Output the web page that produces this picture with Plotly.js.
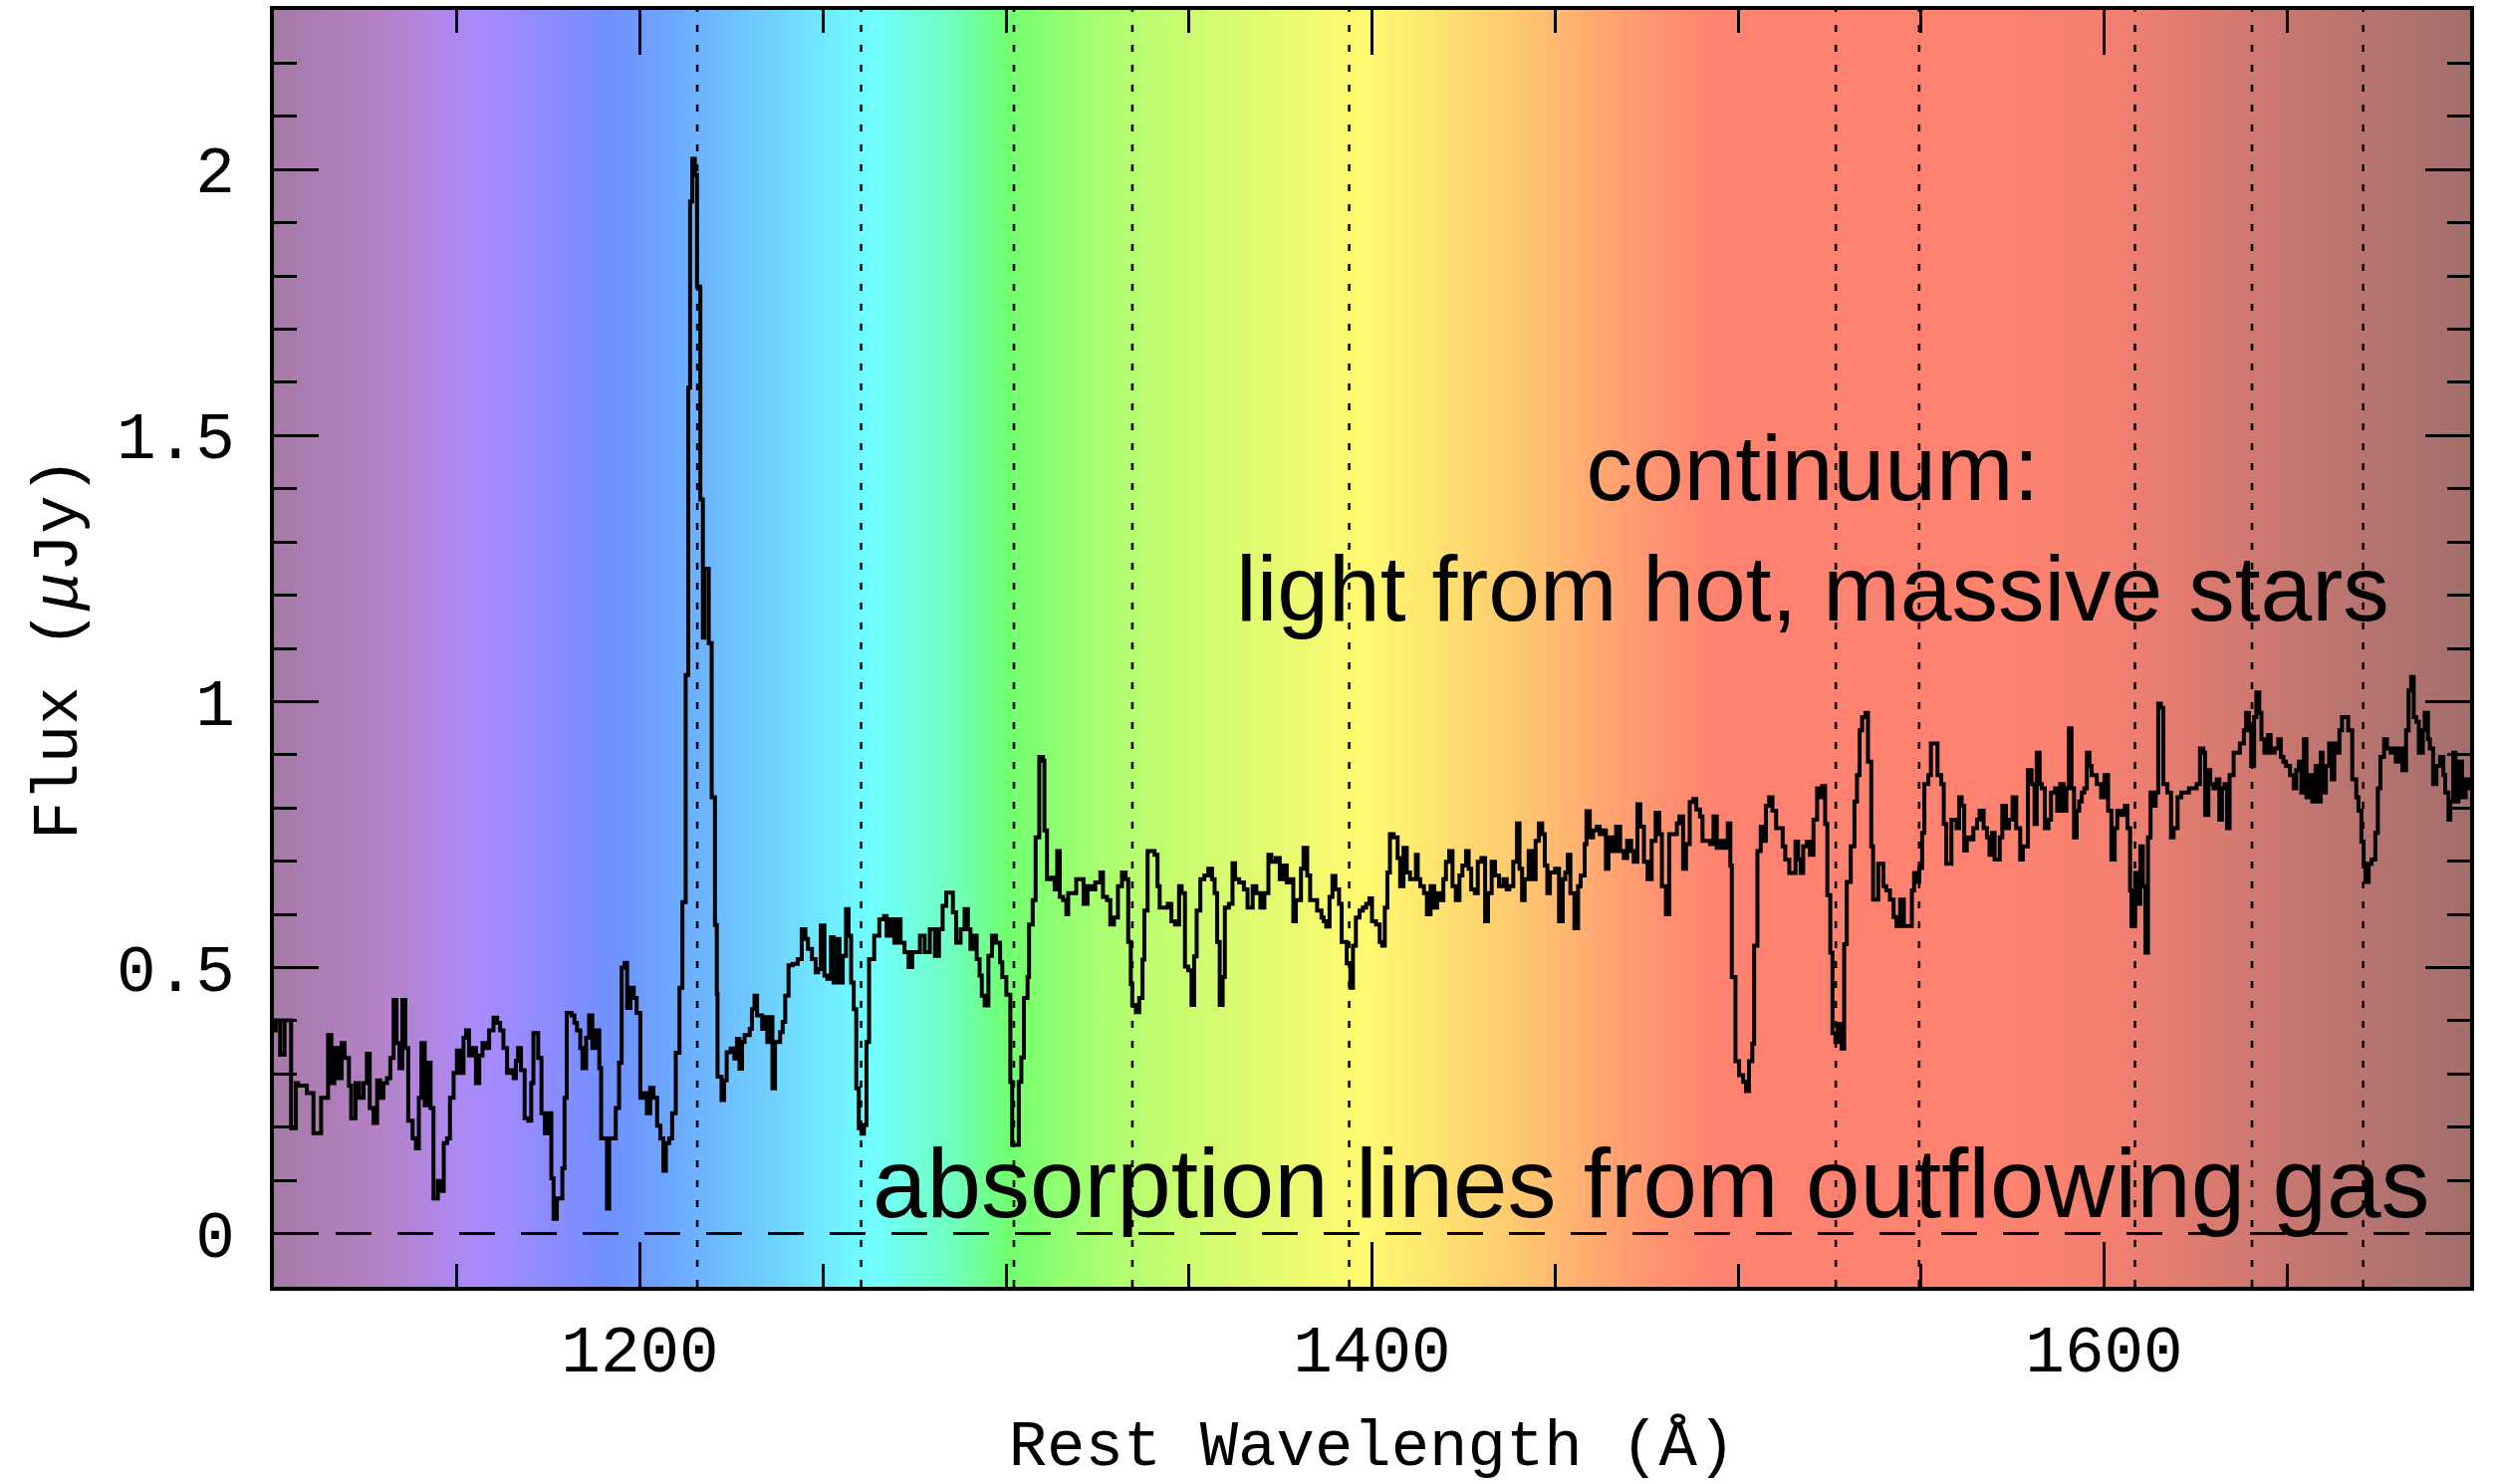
<!DOCTYPE html>
<html>
<head>
<meta charset="utf-8">
<script src="https://cdn.plot.ly/plotly-3.0.1.min.js"></script>
<style>
  html, body { margin: 0; padding: 0; background: #ffffff; }
  #chart { width: 2504px; height: 1490px; }
</style>
</head>
<body>
<div id="chart"></div>
<script>
// ---- Spectrum (rest wavelength in Angstrom, flux in microJy) ----
const wavelength = [
1100.0,1100.5,1101.7,1102.9,1104.7,1106.0,1106.6,1109.0,1110.8,1112.0,1112.9,1114.8,1115.7,1116.5,1117.5,1118.5,1119.3,1120.5,1121.1,1122.3,
1123.3,1124.5,1125.4,1126.2,1127.2,1128.2,1129.0,1129.9,1130.9,1131.8,1132.7,1133.5,1134.3,1135.1,1135.9,1136.7,1137.9,1138.8,1139.6,1140.3,
1141.2,1142.0,1142.8,1143.6,1144.8,1145.7,1146.4,1147.3,1148.1,1149.1,1150.0,1150.9,1151.8,1152.5,1153.3,1154.2,1155.2,1156.1,1157.0,1157.8,
1158.8,1160.0,1161.0,1161.8,1162.7,1163.7,1164.6,1165.5,1166.1,1166.7,1167.5,1168.5,1169.5,1170.3,1170.9,1172.2,1173.1,1174.0,1174.8,1175.8,
1176.4,1177.3,1178.0,1178.8,1179.4,1180.0,1181.3,1182.1,1182.8,1183.7,1184.3,1185.3,1186.1,1187.0,1187.9,1188.9,1189.4,1190.4,1191.0,1191.6,
1192.6,1193.4,1194.3,1195.0,1195.8,1196.5,1197.4,1198.3,1199.1,1200.1,1201.1,1201.9,1202.8,1203.7,1204.7,1205.6,1206.4,1207.1,1208.0,1208.8,
1209.8,1210.8,1211.6,1212.5,1213.2,1213.7,1214.3,1215.0,1215.6,1216.5,1217.2,1217.6,1218.8,1219.6,1220.5,1221.0,1221.2,1222.3,1223.0,1223.7,
1224.8,1225.8,1226.5,1227.2,1227.9,1228.6,1230.0,1230.6,1231.3,1232.0,1233.4,1234.1,1234.8,1235.5,1236.2,1236.9,1238.3,1239.0,1239.7,1240.6,
1241.7,1243.1,1244.2,1245.2,1245.9,1247.0,1248.0,1248.7,1249.4,1250.4,1251.2,1252.2,1252.9,1254.0,1254.5,1255.4,1256.3,1257.0,1257.7,1258.4,
1259.1,1259.8,1260.5,1261.2,1261.9,1262.6,1264.0,1265.4,1266.7,1267.4,1268.4,1269.5,1270.2,1271.2,1272.3,1273.4,1274.4,1275.3,1276.5,1277.8,
1279.2,1280.6,1281.7,1282.7,1283.7,1284.8,1285.5,1286.4,1287.6,1288.7,1289.6,1290.3,1291.0,1292.0,1292.8,1293.4,1294.2,1295.2,1296.2,1297.3,
1298.4,1299.0,1300.1,1301.2,1301.7,1303.1,1303.5,1304.2,1304.9,1305.9,1306.3,1307.3,1308.1,1309.1,1310.1,1310.5,1311.2,1312.3,1313.3,1314.0,
1314.7,1315.6,1316.5,1317.0,1318.1,1319.2,1320.2,1321.2,1322.3,1323.4,1324.4,1325.8,1326.5,1327.6,1328.5,1329.5,1330.6,1331.7,1332.7,1333.4,
1334.1,1334.5,1335.5,1336.4,1337.3,1337.8,1338.7,1339.6,1340.6,1341.4,1342.0,1343.1,1344.2,1345.2,1346.2,1347.3,1348.0,1348.9,1349.8,1350.7,
1351.4,1352.1,1353.1,1354.2,1355.3,1356.3,1357.0,1357.7,1358.4,1359.2,1359.8,1360.9,1361.9,1362.6,1363.7,1365.0,1366.0,1367.4,1368.4,1369.5,
1370.6,1371.7,1372.5,1373.7,1374.8,1375.7,1376.7,1377.5,1378.5,1379.2,1380.6,1381.3,1382.3,1383.1,1384.1,1385.0,1386.2,1386.8,1387.5,1388.4,
1389.2,1390.0,1391.0,1391.7,1392.4,1393.1,1394.1,1394.8,1395.6,1396.6,1397.5,1398.4,1399.3,1400.0,1401.1,1402.1,1402.8,1403.5,1404.2,1404.9,
1405.9,1407.0,1407.7,1408.6,1409.5,1410.4,1411.1,1412.0,1412.5,1413.2,1414.2,1415.0,1416.0,1417.0,1417.8,1418.8,1419.5,1420.2,1421.1,1422.0,
1422.9,1423.9,1424.7,1425.7,1426.4,1427.1,1428.1,1428.9,1429.9,1430.9,1431.7,1432.7,1433.6,1434.7,1435.9,1436.8,1437.5,1438.6,1439.6,1440.3,
1441.0,1441.7,1442.8,1443.8,1444.7,1445.6,1446.5,1447.2,1447.9,1448.6,1449.3,1450.0,1451.1,1452.1,1452.8,1453.5,1454.2,1455.3,1456.3,1457.0,
1458.1,1458.6,1459.5,1460.4,1461.4,1462.2,1463.2,1463.9,1464.6,1465.6,1466.7,1467.8,1468.8,1469.7,1470.8,1471.5,1472.5,1473.3,1474.3,1475.3,
1476.4,1477.5,1478.5,1479.2,1480.3,1481.2,1482.2,1483.3,1484.0,1485.0,1485.8,1486.8,1487.8,1488.6,1489.6,1490.3,1491.4,1492.4,1493.3,1494.2,
1495.1,1496.1,1497.2,1497.9,1498.3,1499.3,1500.3,1501.4,1502.2,1503.0,1503.9,1504.4,1505.3,1506.2,1507.2,1507.6,1508.5,1509.4,1510.4,1511.5,
1512.2,1512.9,1514.0,1515.0,1515.7,1516.4,1517.1,1517.8,1518.8,1519.6,1520.6,1521.6,1522.4,1523.0,1523.8,1524.4,1525.2,1525.8,1526.6,1527.2,
1528.3,1529.0,1529.7,1530.8,1531.8,1532.5,1533.2,1533.9,1534.8,1535.5,1536.4,1536.9,1537.8,1538.3,1539.2,1539.7,1540.5,1541.5,1542.5,1543.3,
1544.3,1545.3,1546.4,1547.5,1548.1,1548.9,1549.5,1550.3,1550.9,1552.0,1552.7,1553.4,1554.5,1555.5,1556.2,1556.9,1557.6,1558.3,1559.0,1559.7,
1560.4,1561.1,1561.8,1562.5,1563.2,1564.3,1565.3,1566.0,1567.1,1568.0,1568.7,1569.4,1570.1,1570.8,1571.5,1572.2,1573.2,1574.0,1575.0,1576.0,
1577.1,1577.8,1578.5,1579.2,1580.2,1581.0,1581.6,1582.4,1583.0,1583.8,1584.8,1585.5,1586.6,1587.2,1588.0,1589.0,1589.7,1590.4,1591.1,1591.8,
1592.5,1593.2,1593.9,1594.6,1595.3,1596.0,1596.6,1598.0,1599.2,1600.1,1601.1,1602.0,1602.9,1603.6,1604.7,1605.7,1606.4,1607.1,1607.5,1608.5,
1609.2,1609.9,1610.6,1611.3,1612.0,1612.7,1613.4,1614.1,1614.8,1615.5,1616.2,1617.3,1618.3,1619.0,1620.1,1621.1,1622.0,1623.2,1624.3,1625.3,
1626.2,1627.1,1627.6,1628.5,1629.0,1629.9,1630.8,1631.5,1632.2,1632.9,1633.6,1634.3,1635.4,1636.4,1637.1,1638.2,1638.8,1639.6,1640.2,1641.0,
1641.6,1642.4,1643.0,1643.8,1644.8,1645.5,1646.6,1647.6,1648.3,1649.0,1649.7,1650.8,1651.8,1652.5,1653.2,1653.9,1654.6,1655.3,1656.0,1656.9,
1657.8,1658.3,1659.2,1659.7,1660.6,1661.5,1662.2,1662.9,1663.6,1664.3,1665.0,1666.1,1666.7,1667.8,1668.9,1669.5,1670.3,1670.9,1671.4,1672.3,
1673.1,1674.1,1674.8,1675.5,1676.5,1677.3,1678.3,1679.0,1679.7,1680.4,1681.5,1682.5,1683.2,1683.9,1684.6,1685.3,1686.0,1687.1,1687.6,1688.5,
1689.0,1689.9,1690.8,1691.8,1692.7,1693.2,1694.1,1694.6,1695.4,1696.0,1696.8,1697.8,1698.8,1699.6,1700.0
];
const flux = [
.382,.401,.336,.401,.198,.283,.278,.264,.189,.189,.255,.373,.283,.349,.292,.358,.330,.278,.217,.283,
.255,.283,.338,.236,.208,.288,.255,.283,.292,.330,.439,.358,.311,.439,.349,.212,.179,.160,.255,.358,
.241,.321,.236,.066,.099,.080,.170,.179,.255,.302,.344,.302,.368,.382,.335,.349,.283,.335,.358,.349,
.382,.406,.396,.382,.349,.302,.307,.292,.325,.349,.307,.217,.212,.283,.377,.330,.226,.189,.226,.104,
.028,.066,.066,.123,.255,.415,.410,.396,.382,.349,.311,.368,.410,.349,.382,.311,.179,.179,.047,.179,
.179,.236,.321,.500,.509,.424,.462,.443,.415,.255,.264,.226,.274,.255,.203,.179,.118,.170,.179,.226,
.340,.462,.623,1.05,1.59,1.94,2.02,1.99,1.78,1.38,1.12,1.25,1.11,.82,.58,.45,.295,.251,.288,.341,
.348,.329,.366,.310,.360,.373,.385,.422,.447,.410,.385,.407,.360,.407,.273,.360,.379,.398,.447,.504,
.507,.516,.572,.554,.535,.516,.491,.497,.579,.485,.479,.557,.472,.554,.472,.522,.610,.560,.472,.422,
.273,.198,.188,.204,.360,.516,.560,.591,.597,.560,.591,.547,.591,.547,.529,.501,.529,.529,.560,.529,
.572,.522,.572,.616,.641,.641,.604,.547,.572,.610,.572,.535,.560,.516,.485,.447,.429,.522,.560,.547,
.510,.482,.449,.285,.167,.167,.285,.331,.443,.482,.581,.627,.745,.896,.889,.758,.666,.669,.647,.719,
.633,.627,.600,.640,.640,.666,.666,.620,.653,.647,.660,.679,.633,.627,.581,.594,.653,.679,.666,.548,
.469,.430,.416,.443,.515,.607,.719,.719,.712,.653,.613,.613,.620,.587,.581,.653,.640,.502,.495,.430,
.521,.607,.666,.673,.686,.666,.640,.548,.430,.482,.613,.620,.696,.666,.660,.647,.613,.653,.640,.613,
.640,.712,.699,.706,.666,.692,.660,.666,.587,.627,.686,.725,.673,.627,.627,.607,.594,.587,.577,.633,
.672,.647,.620,.548,.548,.508,.462,.541,.594,.607,.613,.620,.630,.587,.581,.548,.541,.613,.679,.751,
.745,.706,.653,.725,.679,.666,.666,.712,.666,.653,.640,.600,.653,.613,.640,.627,.666,.699,.719,.653,
.627,.673,.692,.719,.686,.647,.640,.699,.706,.587,.640,.699,.673,.653,.666,.647,.653,.699,.771,.686,
.627,.666,.719,.666,.738,.771,.751,.692,.640,.679,.679,.686,.587,.666,.679,.712,.640,.574,.653,.673,
.732,.794,.745,.758,.765,.751,.758,.686,.745,.719,.765,.719,.706,.738,.719,.699,.807,.765,.699,.666,
.738,.791,.751,.653,.600,.751,.751,.771,.784,.686,.732,.811,.817,.797,.784,.738,.738,.732,.784,.725,
.738,.725,.771,.692,.482,.324,.298,.285,.268,.324,.357,.541,.719,.765,.738,.804,.820,.795,.762,.762,
.728,.703,.678,.678,.737,.703,.678,.728,.737,.712,.778,.837,.820,.841,.770,.636,.528,.377,.360,.394,
.348,.544,.661,.728,.812,.862,.946,.971,.979,.887,.728,.628,.628,.695,.695,.653,.645,.628,.595,.578,
.628,.578,.578,.645,.678,.661,.687,.753,.845,.862,.921,.921,.862,.845,.770,.695,.695,.778,.778,.762,
.820,.804,.720,.745,.741,.762,.778,.795,.762,.745,.712,.753,.703,.703,.745,.804,.762,.778,.820,.762,
.703,.728,.728,.871,.845,.770,.904,.845,.837,.762,.778,.829,.837,.795,.845,.795,.837,.950,.837,.745,
.795,.812,.829,.837,.904,.879,.862,.845,.820,.862,.795,.703,.762,.795,.787,.804,.762,.645,.578,.678,
.620,.728,.653,.528,.745,.829,.804,.829,.996,.988,.845,.829,.745,.762,.820,.829,.829,.837,.837,.845,
.912,.904,.787,.871,.845,.837,.854,.778,.837,.845,.762,.862,.904,.904,.921,.946,.979,.946,.879,.971,
1.017,.979,.929,.904,.937,.904,.912,.929,.896,.887,.879,.862,.837,.871,.887,.829,.929,.820,.862,.812,
.879,.812,.904,.829,.879,.921,.854,.921,.904,.946,.971,.971,.946,.854,.820,.795,.737,.695,.661,.695,
.703,.753,.837,.896,.929,.912,.904,.912,.887,.912,.871,.946,1.021,1.046,.971,.962,.904,.946,.979,.929,
.912,.845,.879,.896,.862,.829,.778,.812,.904,.812,.887,.820,.854,.837,.854
];

// ---- Marked absorption / emission lines (Angstrom) ----
const lineWaves = [1215.67, 1260.42, 1302.17, 1334.53, 1393.76, 1526.71, 1549.48, 1608.45, 1640.42, 1670.79];

// ---- Background rainbow: colour stops along wavelength ----
const bgWave  = [1100, 1130, 1157, 1176, 1192, 1210, 1240, 1263, 1285, 1300, 1325, 1350, 1375, 1398, 1420, 1440, 1460, 1480, 1495, 1570, 1600, 1620, 1645, 1670, 1700];
const bgColor = ['#a67aa6','#b582c8','#a98aff','#8a8cff','#7090ff','#6caaff','#70d8ff','#70ffff','#70ffc0','#70ff70','#a8ff70','#ccfc70','#e8fa70','#fffa70','#ffe070','#ffc870','#ffaa70','#ff9070','#ff8270','#ff8270','#f48070','#e27c70','#cb7870','#b87470','#a26e6c'];

// ---- Texts ----
const xTitle = 'Rest Wavelength (Å)';
const yTitle = 'Flux (<i>μ</i>Jy)';
const noteTop = 'continuum:<br>light from hot, massive stars';
const noteBottom = 'absorption lines from outflowing gas';

const xRange = [1100, 1700];
const yRange = [-0.1, 2.3];
const wMin = bgWave[0], wMax = bgWave[bgWave.length - 1];

const background = {
  type: 'heatmap',
  x: bgWave,
  y: yRange,
  z: [bgWave, bgWave],
  zmin: wMin, zmax: wMax,
  colorscale: bgWave.map((w, i) => [(w - wMin) / (wMax - wMin), bgColor[i]]),
  zsmooth: 'best',
  showscale: false,
  hoverinfo: 'skip'
};

const spectrum = {
  type: 'scatter',
  mode: 'lines',
  x: wavelength,
  y: flux,
  line: { color: '#000000', width: 4, shape: 'hv' },
  hoverinfo: 'x+y'
};

const shapes = lineWaves.map(w => ({
  type: 'line', xref: 'x', yref: 'y',
  x0: w, x1: w, y0: yRange[0], y1: yRange[1],
  line: { color: '#000000', width: 2.6, dash: '7px,13px' },
  layer: 'above'
}));
shapes.push({
  type: 'line', xref: 'x', yref: 'y',
  x0: xRange[0], x1: xRange[1], y0: 0, y1: 0,
  line: { color: '#000000', width: 3, dash: '36px,26px' },
  layer: 'above'
});

const axisFont = { family: 'Liberation Mono, DejaVu Sans Mono, monospace', size: 66, color: '#000000' };

const layout = {
  width: 2504, height: 1490,
  margin: { l: 275, r: 24, t: 10, b: 198, pad: 0 },
  paper_bgcolor: '#ffffff',
  plot_bgcolor: '#ffffff',
  showlegend: false,
  xaxis: {
    range: xRange,
    showgrid: false, zeroline: false,
    showline: true, linecolor: '#000000', linewidth: 4, mirror: 'allticks',
    ticks: 'inside', ticklen: 45, tickwidth: 3, tickcolor: '#000000',
    tickmode: 'linear', tick0: 1200, dtick: 200,
    minor: { ticks: 'inside', dtick: 50, tick0: 1100, ticklen: 23, tickwidth: 3, tickcolor: '#000000', showgrid: false },
    tickfont: axisFont,
    ticklabelstandoff: 2,
    title: { text: xTitle, font: { family: axisFont.family, size: 64, color: '#000000' }, standoff: 62 }
  },
  yaxis: {
    range: yRange,
    showgrid: false, zeroline: false,
    showline: true, linecolor: '#000000', linewidth: 4, mirror: 'allticks',
    ticks: 'inside', ticklen: 45, tickwidth: 3, tickcolor: '#000000',
    tickmode: 'linear', tick0: 0, dtick: 0.5,
    minor: { ticks: 'inside', dtick: 0.1, tick0: 0, ticklen: 23, tickwidth: 3, tickcolor: '#000000', showgrid: false },
    tickfont: axisFont,
    ticklabelstandoff: 22,
    title: { text: yTitle, font: { family: axisFont.family, size: 64, color: '#000000' }, standoff: 20 }
  },
  shapes: shapes,
  annotations: [
    {
      xref: 'x', yref: 'y', x: 1520.4, y: 1.325,
      xanchor: 'center', yanchor: 'middle', align: 'center',
      text: noteTop, showarrow: false,
      font: { family: 'Liberation Sans, Arial, sans-serif', size: 93, color: '#000000' }
    },
    {
      xref: 'x', yref: 'y', x: 1263.0, y: 0.094,
      xanchor: 'left', yanchor: 'middle', align: 'left',
      text: noteBottom, showarrow: false,
      font: { family: 'Liberation Sans, Arial, sans-serif', size: 98, color: '#000000' }
    }
  ]
};

Plotly.newPlot('chart', [background, spectrum], layout, { staticPlot: true, displayModeBar: false });
</script>
</body>
</html>
